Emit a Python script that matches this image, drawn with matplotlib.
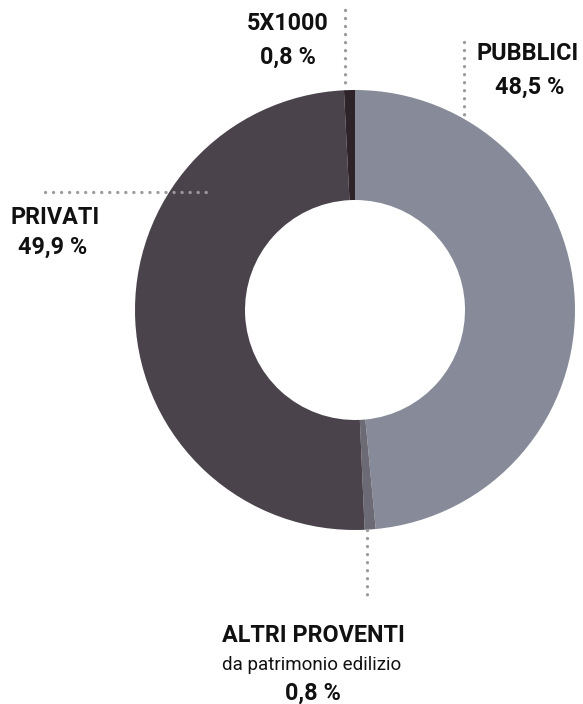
import matplotlib
matplotlib.use("Agg")
import matplotlib.pyplot as plt

# share of revenue by source, clockwise from the top
labels = ["PUBBLICI", "ALTRI PROVENTI", "PRIVATI", "5X1000"]
values = [48.5, 0.8, 49.9, 0.8]
colors = ["#878b99", "#6c6a74", "#4a434c", "#2d2329"]

plt.rcParams['font.family'] = ['Roboto', 'DejaVu Sans']

W, H = 583, 704
fig = plt.figure(figsize=(W / 100, H / 100), dpi=100)
ax = fig.add_axes([0, 0, 1, 1])

cx, cy = 355, H - 310
ax.pie(values, colors=colors, center=(cx, cy), radius=220, startangle=90,
       counterclock=False, wedgeprops=dict(width=110, linewidth=0), frame=True)
ax.set_xlim(0, W)
ax.set_ylim(0, H)
ax.set_aspect('equal')
ax.axis('off')

dot = dict(color="#9b9b9b", linewidth=2.4, linestyle=(0, (0.01, 2.4)),
           dash_capstyle='round', zorder=5)

def px(x, y):
    return x, H - y

# leader lines
ax.plot(*zip(px(464, 42), px(464, 118)), **dot)
ax.plot(*zip(px(345, 10), px(345, 86)), **dot)
ax.plot(*zip(px(45, 192), px(210, 192)), **dot)
ax.plot(*zip(px(367, 530), px(367, 602)), **dot)

bold = dict(fontsize=16.8, fontweight='bold', color='#111111', ha='center', va='center')
fmt = lambda v: f"{v:.1f} %".replace('.', ',')

ax.text(*px(288, 24), labels[3], **bold)
ax.text(*px(288, 57), fmt(values[3]), **bold)
ax.text(*px(528, 54), labels[0], **bold)
ax.text(*px(530, 87), fmt(values[0]), **bold)
ax.text(*px(55, 217), labels[2], **bold)
ax.text(*px(53, 247), fmt(values[2]), **bold)
ax.text(*px(313, 636), labels[1], **bold)
ax.text(*px(312, 665), "da patrimonio edilizio", fontsize=13.5, color='#111111',
        ha='center', va='center')
ax.text(*px(313, 693), fmt(values[1]), **bold)

fig.savefig("out.png", dpi=100, facecolor='white')
